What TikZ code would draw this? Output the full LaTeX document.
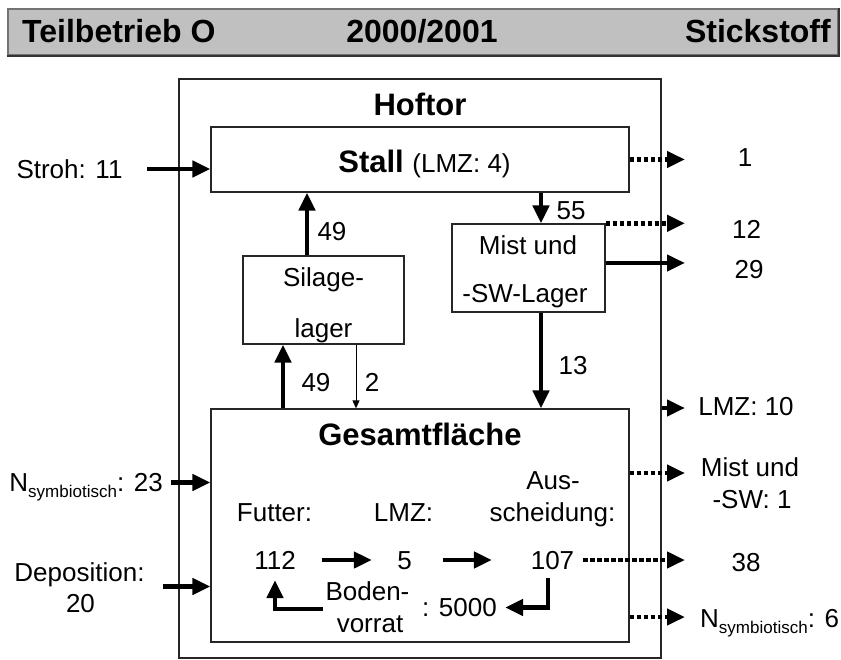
\documentclass[tikz,border=0pt]{standalone}
\usepackage{fontspec}
\setmainfont{Liberation Sans}
\usetikzlibrary{arrows.meta}
\definecolor{hdrgray}{HTML}{C0C0C0}
\begin{document}
\begin{tikzpicture}[x=1pt,y=-1pt,
  lbl/.style={inner sep=0pt, font=\fontsize{26}{31}\selectfont, text height=18.6pt, text depth=0pt},
  ttl/.style={inner sep=0pt, font=\bfseries\fontsize{31}{37}\selectfont, text height=22.2pt, text depth=0pt},
  hdt/.style={inner sep=0pt, font=\bfseries\fontsize{32}{38}\selectfont, text height=22.9pt, text depth=0pt},
  box/.style={draw=black!85, line width=1.3pt, rectangle, inner sep=0pt},
  thk/.style={line width=4.8pt, -{Triangle[length=18pt,width=16pt]}},
  dots/.style={thk, dash pattern=on 4.5pt off 2.5pt},
  thn/.style={line width=1pt, -{Triangle[length=8pt,width=7pt]}}
]
\useasboundingbox (0,0) rectangle (841,660);

% header
\node[draw=black!55, fill=hdrgray, line width=1.3pt, minimum width=830pt, minimum height=46pt, inner sep=0pt] (hdr) at (423,32) {};
\draw[black!80, line width=2pt] (hdr.south west) -- (hdr.south east) -- (hdr.north east);
\node[hdt, anchor=west] (h1) at (22,31) {Teilbetrieb O};
\node[hdt] (h2) at (422,31) {2000/2001};
\node[hdt, anchor=east] (h3) at (831,31) {Stickstoff};

% boxes
\node[box, minimum width=482pt, minimum height=579pt] (hof) at (420,368.5) {};
\node[ttl] (hoftxt) at (420,104) {Hoftor};
\node[box, minimum width=418pt, minimum height=65pt] (stall) at (420,159.5) {};
\node[lbl, text height=22.2pt] (stalltxt) at (424.5,161) {{\bfseries\fontsize{31}{37}\selectfont Stall }(LMZ: 4)};
\node[box, minimum width=161pt, minimum height=88pt] (silage) at (323.5,300) {};
\node[lbl] (sil1) at (323.5,277.5) {Silage-};
\node[lbl] (sil2) at (323.5,328) {lager};
\node[box, minimum width=153pt, minimum height=88pt] (mist) at (528.5,268) {};
\node[lbl] (mist1) at (528,245.5) {Mist und};
\node[lbl] (mist2) at (525,293.5) {-SW-Lager};
\node[box, minimum width=418pt, minimum height=233pt] (ges) at (420,525.5) {};
\node[ttl] (gestxt) at (420,434.5) {Gesamtfläche};

% inside Gesamtflaeche
\node[lbl] (futter) at (274.5,512) {Futter:};
\node[lbl] (lmz) at (403.5,512) {LMZ:};
\node[lbl] (aus1) at (553,480.5) {Aus-};
\node[lbl] (aus2) at (552.5,512.5) {scheidung:};
\node[lbl] (n112) at (275,560) {112};
\node[lbl] (n5) at (404.5,560) {5};
\node[lbl] (n107) at (552.5,560) {107};
\node[lbl] (bod1) at (367.5,591.5) {Boden-};
\node[lbl] (bod2) at (370,623.5) {vorrat};
\node[lbl, anchor=east] (n5000) at (497,607.5) {: 5000};

% left labels
\node[lbl] (stroh) at (69.5,169) {Stroh: 11};
\node[lbl, anchor=east] (nsym1) at (163,482.5) {N\raisebox{-5.5pt}{\fontsize{17}{20}\selectfont symbiotisch}: 23};
\node[lbl] (depo1) at (79.5,572) {Deposition:};
\node[lbl] (depo2) at (80.5,603.5) {20};

% arrow labels
\node[lbl] (l49a) at (332,231) {49};
\node[lbl] (l55) at (571,210) {55};
\node[lbl] (l49b) at (316,382.5) {49};
\node[lbl] (l2) at (372,382.5) {2};
\node[lbl] (l13) at (573,365) {13};

% right labels
\node[lbl] (r1) at (745,157.5) {1};
\node[lbl] (r12) at (746.5,229) {12};
\node[lbl] (r29) at (749,269.5) {29};
\node[lbl] (rlmz) at (746,406.5) {LMZ: 10};
\node[lbl] (rmist1) at (750,467) {Mist und};
\node[lbl] (rmist2) at (752,499) {-SW: 1};
\node[lbl] (r38) at (746,562.5) {38};
\node[lbl, anchor=west] (nsym2) at (700,618.5) {N\raisebox{-5.5pt}{\fontsize{17}{20}\selectfont symbiotisch}: 6};

% coordinates for free ends
\coordinate (rc) at (685,0);
\coordinate (strohin) at (147,169);
\coordinate (nsymin) at (171,482.5);
\coordinate (depoin) at (163,586.5);
\coordinate (bvin) at (323,609);

% inputs
\draw[thk] (strohin) -- (strohin -| stall.west);
\draw[thk] (nsymin) -- (nsymin -| ges.west);
\draw[thk] (depoin) -- (depoin -| ges.west);

% internal flows
\draw[thk] ([xshift=-16.5pt]silage.north) -- ([xshift=-16.5pt]silage.north |- stall.south);
\draw[thk] ([xshift=-137pt]ges.north) -- ([xshift=-137pt]ges.north |- silage.south);
\draw[thn] ([xshift=32.5pt]silage.south) -- ([xshift=32.5pt]silage.south |- ges.north);
\draw[thk] ([xshift=12.5pt]mist.north |- stall.south) -- ([xshift=12.5pt]mist.north);
\draw[thk] ([xshift=12.5pt]mist.south) -- ([xshift=12.5pt]mist.south |- ges.north);

% outputs
\draw[dots] (stall.east) -- (stall.east -| rc);
\draw[dots] (mist.north east) -- (mist.north east -| rc);
\draw[thk] ([yshift=5pt]mist.east) -- ([yshift=5pt]mist.east -| rc);
\draw[thk] ([yshift=-39.5pt]hof.east) -- ([yshift=-39.5pt]hof.east -| rc);
\draw[dots] ([yshift=52.5pt]ges.east) -- ([yshift=52.5pt]ges.east -| rc);
\draw[dots, shorten <=9pt] (n107.east) -- (n107.east -| rc);
\draw[dots] ([yshift=-91.5pt]ges.east) -- ([yshift=-91.5pt]ges.east -| rc);

% soil cycle
\draw[thk, shorten <=26pt, shorten >=25.3pt] (n112.east) -- (n5.west);
\draw[thk, shorten <=31.3pt, shorten >=38.8pt] (n5.east) -- (n107.west);
\draw[thk, shorten >=8pt] ([xshift=-4.5pt,yshift=-8.5pt]n107.south) |- (n5000.east);
\draw[thk, shorten >=10.5pt] (bvin) -| (n112.south);
\end{tikzpicture}
\end{document}
